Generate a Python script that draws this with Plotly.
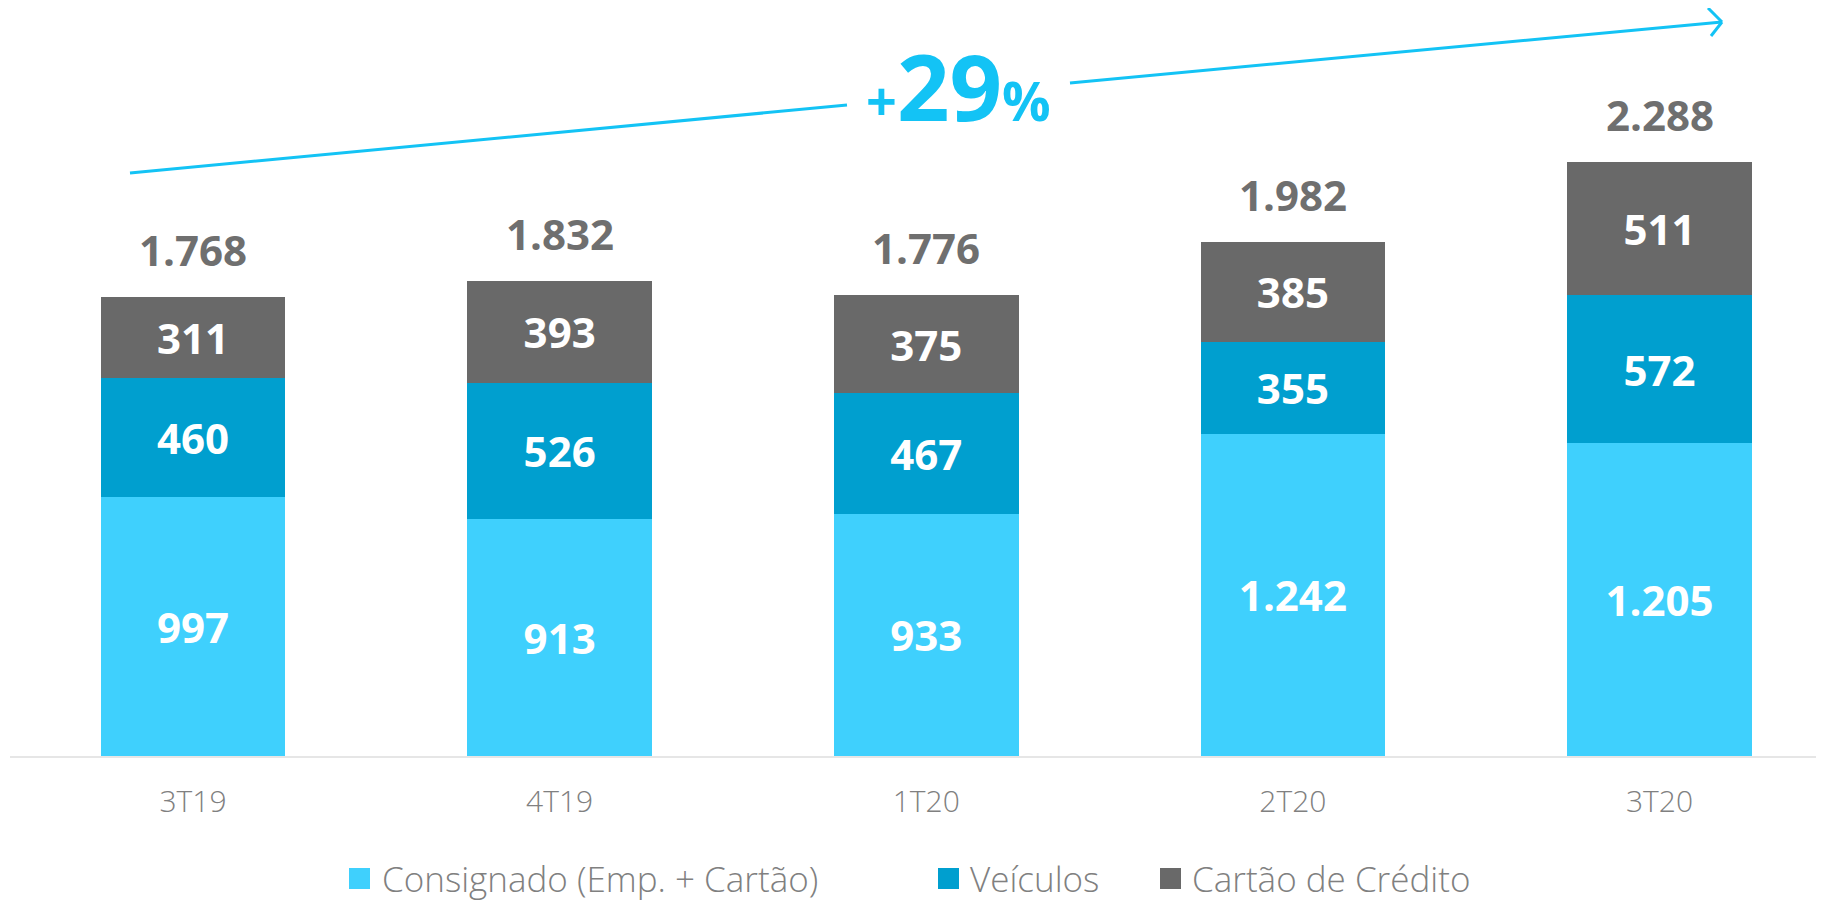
import plotly.graph_objects as go

# ---------------- data ----------------
categories = ["3T19", "4T19", "1T20", "2T20", "3T20"]
consignado = [997, 913, 933, 1242, 1205]
veiculos = [460, 526, 467, 355, 572]
cartao = [311, 393, 375, 385, 511]
totals = [1768, 1832, 1776, 1982, 2288]
series_names = ["Consignado (Emp. + Cartão)", "Veículos", "Cartão de Crédito"]
growth_label_parts = ["+", "29", "%"]

# ---------------- styles ----------------
OFF = 8                       # default page (body) margin
W, H = 1824 - OFF, 901 - OFF
ML, MR, MT, MB = 10 - OFF, 0, 0, 145
PW, PH = W - ML - MR, H - MT - MB
colors = ["#3fd0fd", "#009fcf", "#696969"]
accent = "#13c3f5"
FONT = "Open Sans"


def br(v):
    return f"{v:,}".replace(",", ".")


def px(x, y):
    """reference-pixel position -> paper coords (decoration only)"""
    x, y = x - OFF, y - OFF
    return (x - ML) / PW, (H - MB - y) / PH


fig = go.Figure()
for name, vals, col in zip(series_names, [consignado, veiculos, cartao], colors):
    fig.add_trace(go.Bar(
        x=categories, y=vals, name=name,
        marker=dict(color=col, line=dict(width=0)),
        text=[br(v) for v in vals],
        textposition="inside", insidetextanchor="middle",
        constraintext="none",
        textfont=dict(family=FONT, size=42, color="white", weight=700),
        showlegend=False, hoverinfo="skip",
    ))

annotations = []
# totals on top of stacks
for c, t in zip(categories, totals):
    annotations.append(dict(
        x=c, y=t, xref="x", yref="y", text=br(t), showarrow=False,
        yanchor="bottom", yshift=17,
        font=dict(family=FONT, size=42, color="#6f6f6f", weight=700),
    ))

# growth arrow (decoration)
shapes = []
seg = [((130, 173), (847, 105)), ((1070, 83), (1722, 22)),
       ((1708, 8), (1722, 22)), ((1711, 36), (1722, 22))]
for (a, b) in seg:
    x0, y0 = px(*a)
    x1, y1 = px(*b)
    shapes.append(dict(type="line", xref="paper", yref="paper",
                       x0=x0, y0=y0, x1=x1, y1=y1,
                       line=dict(color=accent, width=3)))

gx, gy = px(958, 86)
annotations.append(dict(
    xref="paper", yref="paper", x=gx, y=gy, showarrow=False,
    xanchor="center", yanchor="middle",
    text=(f'<span style="font-size:54px"><b>{growth_label_parts[0]}</b></span>'
          f'<b>{growth_label_parts[1]}</b>'
          f'<span style="font-size:54px"><b>{growth_label_parts[2]}</b></span>'),
    font=dict(family=FONT, size=92, color=accent),
))

# legend (manual for large swatches)
legend_items = [(349, 380), (938, 968), (1160, 1190)]
ly = 878
for (sx, tx), name, col in zip(legend_items, series_names, colors):
    x0, y0 = px(sx, ly - 10)
    x1, y1 = px(sx + 21, ly + 11)
    shapes.append(dict(type="rect", xref="paper", yref="paper",
                       x0=x0, x1=x1, y0=y0, y1=y1,
                       fillcolor=col, line=dict(width=0)))
    ax, ay = px(tx, ly)
    annotations.append(dict(
        xref="paper", yref="paper", x=ax, y=ay, showarrow=False,
        xanchor="left", yanchor="middle", text=name,
        font=dict(family=FONT, size=35, color="#808080", weight=300),
    ))

ppc = (1659.5 - 193) / 4
fig.update_layout(
    width=W, height=H,
    margin=dict(l=ML, r=MR, t=MT, b=MB),
    paper_bgcolor="white", plot_bgcolor="white",
    barmode="stack", bargap=1 - 184.5 / ppc,
    xaxis=dict(
        type="category",
        range=[-(193 - 10) / ppc, 4 + (1824 - 1659.5) / ppc],
        showline=True, linecolor="#e6e6e6", linewidth=2,
        ticks="outside", ticklen=18, tickcolor="rgba(0,0,0,0)",
        tickfont=dict(family=FONT, size=30, color="#808080", weight=300),
        showgrid=False, zeroline=False, fixedrange=True,
    ),
    yaxis=dict(range=[0, PH / 0.2595], visible=False, showgrid=False,
               zeroline=False, fixedrange=True),
    shapes=shapes, annotations=annotations,
    showlegend=False,
)

fig.write_html("out.html")
